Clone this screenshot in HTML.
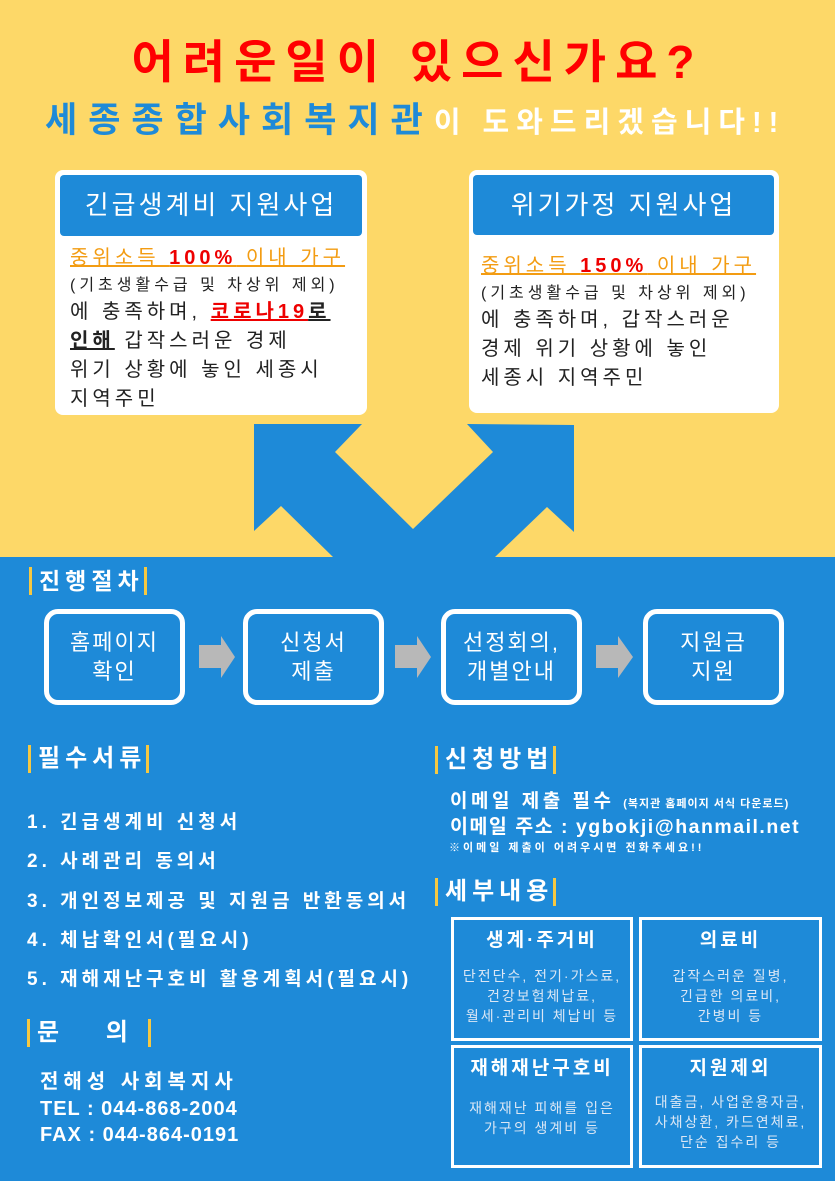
<!DOCTYPE html>
<html><head><meta charset="utf-8"><style>
*{margin:0;padding:0;box-sizing:border-box}
body{width:835px;height:1181px;position:relative;overflow:hidden;background:#1e8ad8;font-family:"Liberation Sans","Noto Sans CJK KR",sans-serif}
.a{position:absolute;white-space:nowrap}
.w{color:#fff}
.b{font-weight:bold}
.hd{position:absolute;color:#fff;font-weight:bold;font-size:24px;line-height:30px;letter-spacing:5px;border-left:3px solid #f5c842;border-right:3px solid #f5c842;padding:0 0 0 7px;height:28px;display:flex;align-items:center}
.pb{position:absolute;top:609px;width:141px;height:96px;border:5px solid #fff;border-radius:14px;color:#fff;font-size:22px;letter-spacing:2px;line-height:29px;text-align:center;display:flex;align-items:center;justify-content:center}
.gb{position:absolute;border:3px solid #fff;color:#fff;text-align:center}
.gb h4{font-size:19px;letter-spacing:3px;margin-top:8px;line-height:26px}
.gb p{font-size:14px;letter-spacing:2px;line-height:20px;color:#dbe7f5}
.bt{letter-spacing:4px}
</style></head><body>
<div class="a" style="left:0;top:0;width:835px;height:557px;background:#fdd868"></div>
<svg class="a" style="left:0;top:0" width="835" height="660"><polygon fill="#1e8ad8" points="254,424 362,424 335,452 413,529 493,452 467,424 574,425 574,532 547,507 495,557 333,557 281,506 254,531"/></svg>

<div class="a" style="left:0;width:835px;top:34px;text-align:center;color:#f00;font-weight:bold;font-size:46px;letter-spacing:9px;line-height:56px">어려운일이 있으신가요?</div>
<div class="a" style="left:45px;top:96px;line-height:50px"><span style="color:#1e8ad8;font-weight:bold;font-size:35px;letter-spacing:11px">세종종합사회복지관</span><span style="color:#fff;font-weight:bold;font-size:29px;letter-spacing:7px">이 도와드리겠습니다!!</span></div>

<div class="a" style="left:55px;top:170px;width:312px;height:245px;background:#fff;border-radius:8px"></div>
<div class="a" style="left:60px;top:175px;width:302px;height:61px;background:#1e8ad8;border-radius:4px;color:#fff;font-size:26px;letter-spacing:3px;line-height:61px;text-align:center">긴급생계비 지원사업</div>
<div class="a bt" style="left:70px;top:244px;font-size:20px;line-height:29px;color:#222">
<div style="color:#f39c12;text-decoration:underline">중위소득 <b style="color:#e00">100%</b> 이내 가구</div>
<div style="font-size:16px;line-height:25px">(기초생활수급 및 차상위 제외)</div>
<div>에 충족하며, <b style="color:#e00;text-decoration:underline">코로나19</b><b style="text-decoration:underline">로</b></div>
<div><b style="text-decoration:underline">인해</b> 갑작스러운 경제</div>
<div>위기 상황에 놓인 세종시</div>
<div>지역주민</div></div>

<div class="a" style="left:469px;top:170px;width:310px;height:243px;background:#fff;border-radius:8px"></div>
<div class="a" style="left:473px;top:175px;width:301px;height:60px;background:#1e8ad8;border-radius:4px;color:#fff;font-size:26px;letter-spacing:3px;line-height:60px;text-align:center">위기가정 지원사업</div>
<div class="a bt" style="left:481px;top:252px;font-size:20px;line-height:29px;color:#222">
<div style="color:#f39c12;text-decoration:underline">중위소득 <b style="color:#e00">150%</b> 이내 가구</div>
<div style="font-size:16px;line-height:25px">(기초생활수급 및 차상위 제외)</div>
<div>에 충족하며, 갑작스러운</div>
<div>경제 위기 상황에 놓인</div>
<div>세종시 지역주민</div></div>

<div class="hd" style="left:29px;top:567px;font-size:23px">진행절차</div>
<div class="pb" style="left:44px">홈페이지<br>확인</div>
<div class="pb" style="left:243px">신청서<br>제출</div>
<div class="pb" style="left:441px">선정회의,<br>개별안내</div>
<div class="pb" style="left:643px">지원금<br>지원</div>
<svg class="a" style="left:0;top:630px" width="835" height="50"><g fill="#b8b8b8"><polygon points="199,15 221,15 221,6 235,27 221,48 221,38 199,38"/><polygon points="395,15 417,15 417,6 431,27 417,48 417,38 395,38"/><polygon points="596,15 618,15 618,6 633,27 618,48 618,38 596,38"/></g></svg>

<div class="hd" style="left:28px;top:745px">필수서류</div>
<div class="a w b" style="left:27px;top:803px;font-size:19px;letter-spacing:4px;line-height:39.3px">
<div>1. 긴급생계비 신청서</div><div>2. 사례관리 동의서</div><div>3. 개인정보제공 및 지원금 반환동의서</div><div>4. 체납확인서(필요시)</div><div>5. 재해재난구호비 활용계획서(필요시)</div></div>
<div class="hd" style="left:27px;top:1019px;letter-spacing:20px">문 의</div>
<div class="a w b" style="left:40px;top:1068px;font-size:20px;letter-spacing:5px;line-height:28px">전해성 사회복지사</div>
<div class="a w b" style="left:40px;top:1096px;font-size:20px;letter-spacing:1px;line-height:26px">TEL : 044-868-2004</div>
<div class="a w b" style="left:40px;top:1122px;font-size:20px;letter-spacing:1px;line-height:26px">FAX : 044-864-0191</div>

<div class="hd" style="left:435px;top:746px">신청방법</div>
<div class="a w b" style="left:450px;top:789px;font-size:19px;letter-spacing:3.5px;line-height:26px">이메일 제출 필수 <span style="font-size:11px;letter-spacing:1px">(복지관 홈페이지 서식 다운로드)</span></div>
<div class="a w b" style="left:450px;top:814px;font-size:19.5px;letter-spacing:1.5px;line-height:26px">이메일 주소 : ygbokji@hanmail.net</div>
<div class="a w b" style="left:449px;top:840px;font-size:11px;letter-spacing:3px;line-height:16px">※이메일 제출이 어려우시면 전화주세요!!</div>

<div class="hd" style="left:435px;top:878px">세부내용</div>
<div class="gb" style="left:451px;top:917px;width:182px;height:124px"><h4>생계·주거비</h4><p style="margin-top:12px">단전단수, 전기·가스료,<br>건강보험체납료,<br>월세·관리비 체납비 등</p></div>
<div class="gb" style="left:639px;top:917px;width:183px;height:124px"><h4>의료비</h4><p style="margin-top:12px">갑작스러운 질병,<br>긴급한 의료비,<br>간병비 등</p></div>
<div class="gb" style="left:451px;top:1045px;width:182px;height:123px"><h4>재해재난구호비</h4><p style="margin-top:16px">재해재난 피해를 입은<br>가구의 생계비 등</p></div>
<div class="gb" style="left:639px;top:1045px;width:183px;height:123px"><h4>지원제외</h4><p style="margin-top:10px">대출금, 사업운용자금,<br>사채상환, 카드연체료,<br>단순 집수리 등</p></div>
</body></html>
